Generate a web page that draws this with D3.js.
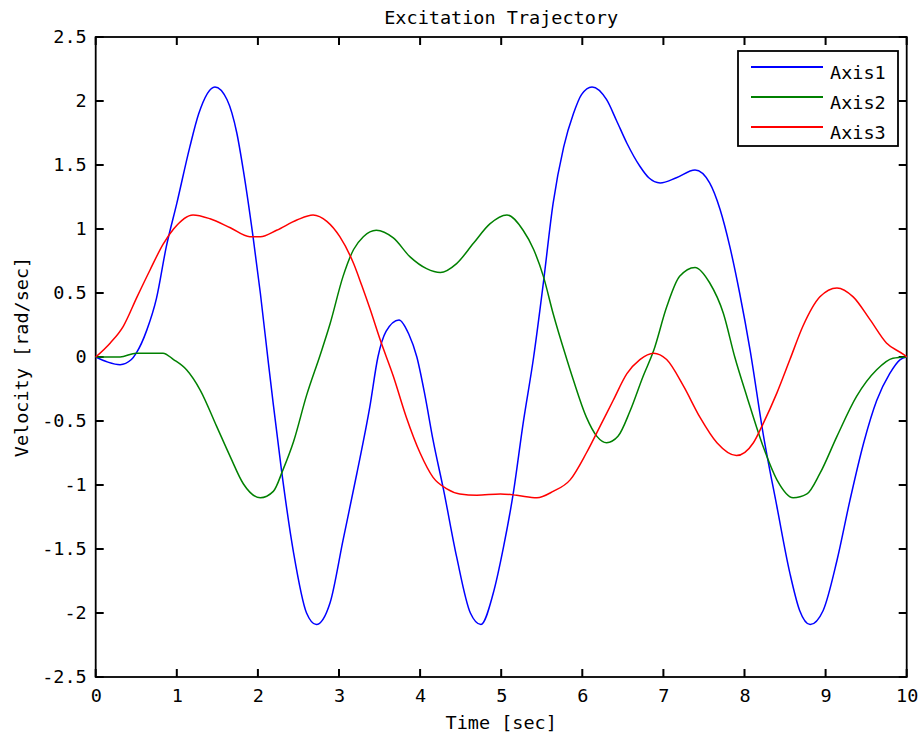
<!DOCTYPE html>
<html>
<head>
<meta charset="utf-8">
<script src="https://cdn.jsdelivr.net/npm/d3@7"></script>
<style>
  body { margin: 0; background: #fff; }
  text { font-family: "DejaVu Sans Mono", monospace; font-size: 18.5px; fill: #000; }
</style>
</head>
<body>
<div id="chart"></div>
<script>
const width = 918;
const height = 743;
const margin = { left: 95.7, right: 918 - 906.7, top: 37, bottom: 743 - 677 };

// tempo e velocidade de cada eixo
const axis1Time = [0, 0.15, 0.3, 0.44, 0.5, 0.63, 0.75, 0.87, 1.0, 1.16, 1.27, 1.47, 1.62, 1.74, 1.82, 1.94, 2.03, 2.13, 2.19, 2.29, 2.44, 2.6, 2.72, 2.89, 3.05, 3.22, 3.38, 3.48, 3.58, 3.74, 3.86, 3.96, 4.06, 4.16, 4.29, 4.45, 4.62, 4.75, 4.9, 5.03, 5.15, 5.27, 5.4, 5.52, 5.64, 5.77, 5.89, 5.99, 6.12, 6.3, 6.42, 6.55, 6.71, 6.82, 6.96, 7.16, 7.39, 7.57, 7.7, 7.82, 7.94, 8.07, 8.23, 8.4, 8.56, 8.68, 8.81, 8.97, 9.14, 9.3, 9.47, 9.63, 9.79, 9.92, 10];
const axis1Vel = [0, -0.04, -0.06, -0.02, 0.03, 0.21, 0.46, 0.86, 1.2, 1.64, 1.9, 2.11, 2.01, 1.75, 1.46, 0.94, 0.5, -0.05, -0.37, -0.88, -1.53, -2.0, -2.09, -1.92, -1.43, -0.91, -0.39, 0.0, 0.2, 0.29, 0.18, 0.0, -0.3, -0.65, -1.04, -1.56, -2.0, -2.09, -1.85, -1.48, -1.06, -0.52, 0.0, 0.58, 1.2, 1.64, 1.9, 2.05, 2.11, 2.01, 1.85, 1.67, 1.49, 1.4, 1.36, 1.4, 1.46, 1.36, 1.15, 0.86, 0.5, 0.05, -0.6, -1.17, -1.69, -1.98, -2.09, -1.98, -1.59, -1.12, -0.67, -0.34, -0.13, -0.02, 0];

const axis2Time = [0, 0.3, 0.5, 0.83, 0.96, 1.12, 1.29, 1.49, 1.66, 1.82, 2.03, 2.19, 2.31, 2.44, 2.6, 2.77, 2.89, 3.05, 3.18, 3.3, 3.46, 3.67, 3.88, 4.08, 4.25, 4.45, 4.66, 4.86, 5.07, 5.27, 5.4, 5.52, 5.64, 5.8, 5.89, 6.05, 6.18, 6.3, 6.44, 6.59, 6.75, 6.88, 7.04, 7.2, 7.39, 7.57, 7.74, 7.88, 8.03, 8.23, 8.4, 8.6, 8.77, 8.93, 9.14, 9.38, 9.63, 9.83, 10];
const axis2Vel = [0, 0.0, 0.03, 0.03, -0.02, -0.1, -0.26, -0.54, -0.78, -0.99, -1.1, -1.05, -0.88, -0.66, -0.3, 0.02, 0.26, 0.63, 0.84, 0.94, 0.99, 0.93, 0.78, 0.69, 0.66, 0.73, 0.89, 1.04, 1.11, 0.99, 0.84, 0.63, 0.34, 0.0, -0.18, -0.47, -0.62, -0.67, -0.62, -0.42, -0.15, 0.05, 0.39, 0.63, 0.7, 0.58, 0.34, 0.0, -0.31, -0.7, -0.96, -1.1, -1.07, -0.91, -0.62, -0.31, -0.1, -0.01, 0];

const axis3Time = [0, 0.18, 0.34, 0.51, 0.67, 0.83, 0.96, 1.2, 1.41, 1.66, 1.9, 2.03, 2.23, 2.48, 2.68, 2.85, 3.01, 3.18, 3.28, 3.38, 3.51, 3.67, 3.83, 4.0, 4.16, 4.33, 4.49, 4.7, 4.99, 5.19, 5.44, 5.64, 5.85, 6.05, 6.22, 6.38, 6.55, 6.71, 6.88, 7.04, 7.25, 7.45, 7.66, 7.9, 8.11, 8.23, 8.4, 8.56, 8.72, 8.93, 9.14, 9.34, 9.55, 9.75, 9.96, 10];
const axis3Vel = [0, 0.11, 0.24, 0.47, 0.68, 0.88, 1.0, 1.11, 1.08, 1.01, 0.94, 0.94, 0.99, 1.07, 1.11, 1.06, 0.94, 0.73, 0.56, 0.38, 0.13, -0.15, -0.47, -0.75, -0.94, -1.03, -1.07, -1.08, -1.07, -1.08, -1.1, -1.05, -0.96, -0.75, -0.54, -0.34, -0.13, -0.02, 0.03, -0.02, -0.23, -0.47, -0.67, -0.77, -0.67, -0.52, -0.28, -0.02, 0.24, 0.47, 0.54, 0.47, 0.29, 0.11, 0.02, 0];

const seriesNames = ["Axis1", "Axis2", "Axis3"];
const seriesColors = ["#0000ff", "#008000", "#ff0000"];
const xTicks = [0, 1, 2, 3, 4, 5, 6, 7, 8, 9, 10];
const yTicks = [-2.5, -2, -1.5, -1, -0.5, 0, 0.5, 1, 1.5, 2, 2.5];

const series = [
  axis1Time.map((t, i) => [t, axis1Vel[i]]),
  axis2Time.map((t, i) => [t, axis2Vel[i]]),
  axis3Time.map((t, i) => [t, axis3Vel[i]]),
];

const svg = d3
  .select("#chart")
  .append("svg")
  .attr("width", width)
  .attr("height", height);

const x = d3.scaleLinear().domain([0, 10]).range([margin.left, width - margin.right]);
const y = d3.scaleLinear().domain([-2.5, 2.5]).range([height - margin.bottom, margin.top]);

const tickLen = 8;
const tickW = 2;
const fmt = (d) => String(d);

// rotulos dos eixos
const axisStyle = (g) => {
  g.select(".domain").remove();
  g.selectAll(".tick line").remove();
  g.selectAll(".tick text").style("font-family", '"DejaVu Sans Mono", monospace').style("font-size", "18.5px");
};

svg.append("g")
  .attr("transform", `translate(0, ${y(-2.5)})`)
  .call(d3.axisBottom(x).tickValues(xTicks).tickFormat(fmt).tickSize(0).tickPadding(12))
  .call(axisStyle);

svg.append("g")
  .attr("transform", `translate(${x(0)}, 0)`)
  .call(d3.axisLeft(y).tickValues(yTicks).tickFormat(fmt).tickSize(0).tickPadding(9))
  .call(axisStyle);

// ticks para dentro nos quatro lados (retangulos preenchidos)
const tickG = svg.append("g").attr("fill", "#000");
[y(-2.5) - tickLen, y(2.5)].forEach((y0) => {
  tickG.selectAll(null)
    .data(xTicks)
    .enter()
    .append("rect")
    .attr("x", (d) => x(d) - tickW / 2)
    .attr("y", y0)
    .attr("width", tickW)
    .attr("height", tickLen);
});
[x(0), x(10) - tickLen].forEach((x0) => {
  tickG.selectAll(null)
    .data(yTicks)
    .enter()
    .append("rect")
    .attr("x", x0)
    .attr("y", (d) => y(d) - tickW / 2)
    .attr("width", tickLen)
    .attr("height", tickW);
});

// caixa
svg.append("rect")
  .attr("x", x(0))
  .attr("y", y(2.5))
  .attr("width", x(10) - x(0))
  .attr("height", y(-2.5) - y(2.5))
  .attr("fill", "none")
  .attr("stroke", "#000")
  .attr("stroke-width", 1.8);

const line = d3
  .line()
  .x((d) => x(d[0]))
  .y((d) => y(d[1]))
  .curve(d3.curveMonotoneX);

svg.selectAll(".series")
  .data(series)
  .enter()
  .append("path")
  .attr("class", "series")
  .attr("d", line)
  .attr("fill", "none")
  .attr("stroke", (d, i) => seriesColors[i])
  .attr("stroke-width", 1.5);

// titulos
svg.append("text")
  .attr("x", (x(0) + x(10)) / 2)
  .attr("y", 24)
  .attr("text-anchor", "middle")
  .text("Excitation Trajectory");

svg.append("text")
  .attr("x", (x(0) + x(10)) / 2)
  .attr("y", 729)
  .attr("text-anchor", "middle")
  .text("Time [sec]");

svg.append("text")
  .attr("transform", `translate(28, ${y(0)}) rotate(-90)`)
  .attr("text-anchor", "middle")
  .text("Velocity [rad/sec]");

// legenda
const legend = svg.append("g");
legend.append("rect")
  .attr("x", 738)
  .attr("y", 51)
  .attr("width", 160)
  .attr("height", 95)
  .attr("fill", "#fff")
  .attr("stroke", "#000")
  .attr("stroke-width", 1.8);

seriesNames.forEach((name, i) => {
  const ly = 67 + i * 30;
  legend.append("path")
    .attr("d", d3.line()([[751, ly], [823, ly]]))
    .attr("fill", "none")
    .attr("stroke", seriesColors[i])
    .attr("stroke-width", 1.8);
  legend.append("text")
    .attr("x", 830)
    .attr("y", 79 + i * 30)
    .text(name);
});
</script>
</body>
</html>
